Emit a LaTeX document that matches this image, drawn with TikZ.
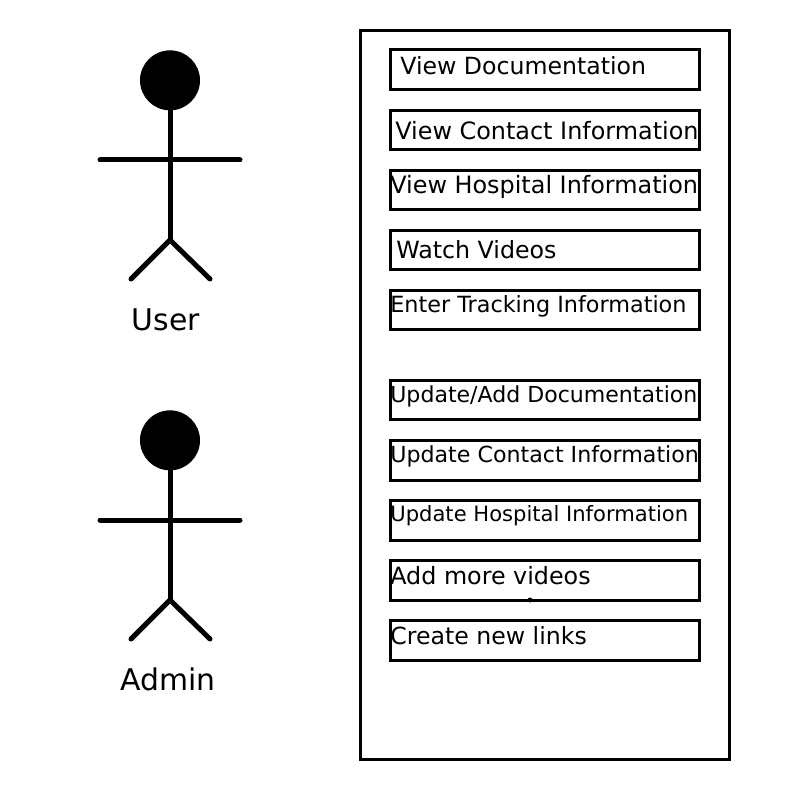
\documentclass[tikz,border=0pt]{standalone}
\usepackage{fontspec}
\setmainfont{DejaVu Sans}
\tikzset{
    actorline/.style={line width=0.1cm,line cap=round},
    usecase/.style={draw,line width=0.06cm,minimum width=6.2cm,minimum height=0.8cm,inner sep=0pt,outer sep=0pt},
    caselabel/.style={anchor=base west,inner sep=0pt}
}
\begin{document}
\begin{tikzpicture}[x=0.02cm,y=-0.02cm]
    \useasboundingbox (0,0) rectangle (800,800);

    % draw the two actors
    \foreach \actor/\top/\xtext/\ytext in {User/50/166/330,Admin/410/168/690} {
        \node[circle,fill=black,minimum size=1.2cm,inner sep=0pt,anchor=north] (head\actor) at (170,\top) {};
        \coordinate (hip\actor) at (170,\top+190);
        \coordinate (armL\actor) at (100,\top+110);
        \coordinate (armR\actor) at (240,\top+110);
        \coordinate (legL\actor) at (131,\top+229);
        \coordinate (legR\actor) at (210,\top+229);
        \draw[actorline] (head\actor.south) -- (hip\actor);
        \draw[actorline] (armL\actor) -- (armR\actor);
        \draw[actorline] (legL\actor) -- (hip\actor) -- (legR\actor);
        \node[anchor=base,font=\fontsize{17}{20}\selectfont,inner sep=0pt] (label\actor) at (\xtext,\ytext) {\actor};
    }

    % the system frame
    \node[draw,line width=0.06cm,minimum width=7.4cm,minimum height=14.6cm,inner sep=0pt,outer sep=0pt] (system) at (545,395) {};

    % use cases: name/centre/text x/baseline/font size/text
    \foreach \name/\y/\xtext/\ytext/\fs/\txt in {
        viewdoc/70/400/75/13.45/{View Documentation},
        viewcontact/130/395/140/13.6/{View Contact Information},
        viewhospital/190/390/194/13.6/{View Hospital Information},
        watch/250/396/258/13.5/{Watch Videos},
        tracking/310/390/312/12.7/{Enter Tracking Information},
        updatedoc/400/390/402/12.55/{Update/Add Documentation},
        updatecontact/460/390/462/12.6/{Update Contact Information},
        updatehospital/520/390/521/12/{Update Hospital Information},
        addvideos/580/390/584/13.55/{Add more videos},
        newlinks/640/390/644/13.45/{Create new links}} {
        \node[usecase] (\name) at (545,\y) {};
        \node[caselabel,font=\fontsize{\fs}{\fs}\selectfont] (\name text) at (\xtext,\ytext) {\txt};
    }

    % stray dot on the lower edge
    \fill (addvideos.south) ++(-15,0) circle(0.05cm);
\end{tikzpicture}
\end{document}
